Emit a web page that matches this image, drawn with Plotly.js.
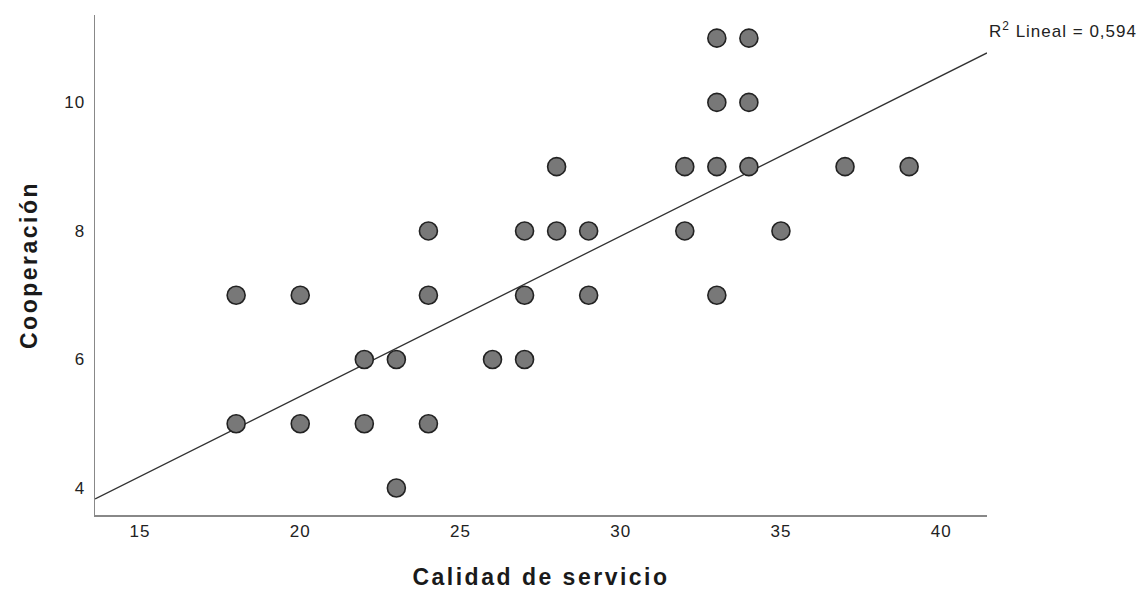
<!DOCTYPE html>
<html>
<head>
<meta charset="utf-8">
<script src="https://cdn.plot.ly/plotly-3.0.1.min.js"></script>
<style>
html,body{margin:0;padding:0;background:#fff;}
#chart{width:1146px;height:591px;}
.xtick text, .ytick text {letter-spacing: 1px;}
.xtitle, .ytitle {letter-spacing: 2.5px;}
.annotation-text {letter-spacing: 1px;}
</style>
</head>
<body>
<div id="chart"></div>
<script>
const calidad = [18,18,20,20,22,22,23,23,24,24,24,26,27,27,27,28,28,29,29,32,32,33,33,33,33,34,34,34,35,37,39];
const cooperacion = [7,5,7,5,6,5,6,4,8,7,5,6,8,7,6,9,8,8,7,9,8,11,10,9,7,11,10,9,8,9,9];
const fitX = [13.6, 41.43];
const fitY = [3.83, 10.77];
const xTicks = [15,20,25,30,35,40];
const yTicks = [4,6,8,10];
const r2Label = 'R<sup>2</sup> Lineal = 0,594';

const FONT = 'Liberation Sans, Arial, sans-serif';
const traces = [
  {x: fitX, y: fitY, mode: 'lines', type: 'scatter', line: {color: '#333333', width: 1.3}, hoverinfo: 'skip'},
  {x: calidad, y: cooperacion, mode: 'markers', type: 'scatter',
   marker: {size: 18, color: '#787878', line: {color: '#222222', width: 1.6}}}
];
const layout = {
  width: 1146, height: 591,
  margin: {l: 95, r: 159, t: 15, b: 76},
  paper_bgcolor: '#ffffff', plot_bgcolor: '#ffffff',
  showlegend: false,
  font: {family: FONT, color: '#222222'},
  xaxis: {range: [13.596, 41.43], tickvals: xTicks, showgrid: false, zeroline: false,
    showline: true, linecolor: '#888888', linewidth: 1.5, ticks: '', ticklen: 0,
    tickfont: {size: 17, color: '#222222'},
    title: {text: 'Calidad de servicio', font: {size: 23, color: '#1a1a1a', family: FONT, weight: 'bold'}, standoff: 29}},
  yaxis: {range: [3.58, 11.36], tickvals: yTicks, showgrid: false, zeroline: false,
    showline: true, linecolor: '#888888', linewidth: 1.5, ticks: '', ticklen: 0,
    ticklabelstandoff: 5,
    tickfont: {size: 17, color: '#222222'},
    title: {text: 'Cooperación', font: {size: 23, color: '#1a1a1a', family: FONT, weight: 'bold'}, standoff: 20}},
  annotations: [{text: r2Label, xref: 'paper', yref: 'paper', x: 1.0, y: 0.97, xanchor: 'left', yanchor: 'middle',
    showarrow: false, font: {size: 17, color: '#222222'}}]
};
Plotly.newPlot('chart', traces, layout, {displayModeBar: false, staticPlot: true});
</script>
</body>
</html>
